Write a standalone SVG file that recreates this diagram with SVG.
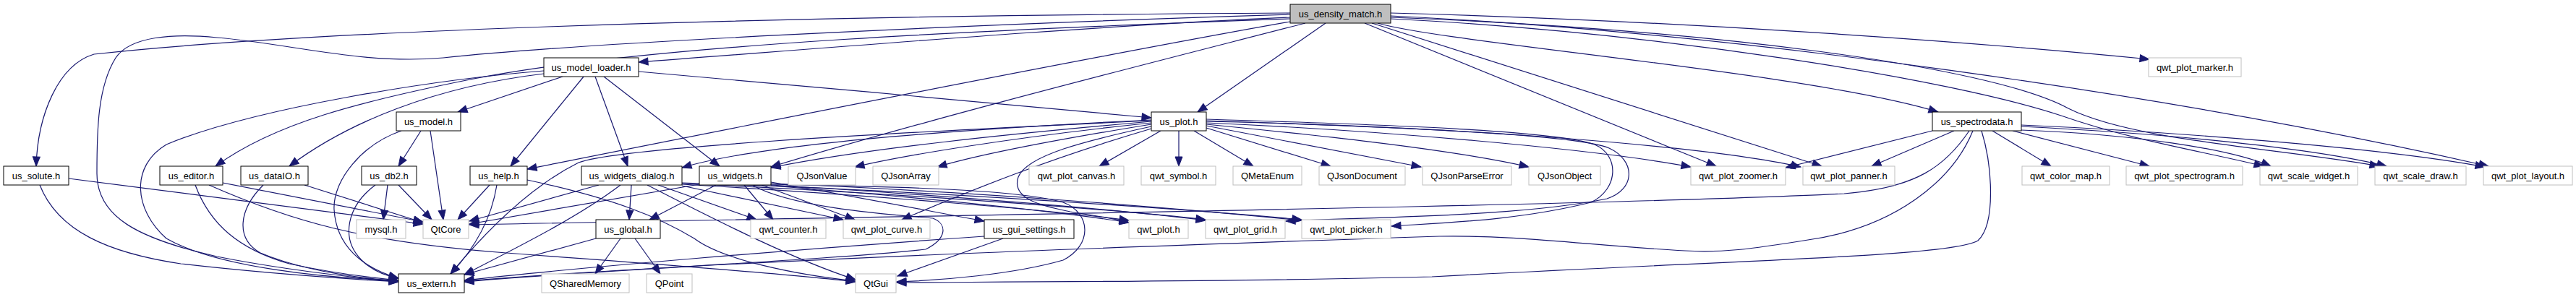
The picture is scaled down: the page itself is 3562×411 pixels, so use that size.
<svg xmlns="http://www.w3.org/2000/svg" width="3562" height="411" viewBox="0 0 3562 411">
<style>
rect{fill:#fff;stroke:#000;stroke-width:1}
.g rect{stroke:#bfbfbf}
.r rect{fill:#bfbfbf}
text{font-family:"Liberation Sans",Arial,sans-serif;font-size:13px;text-anchor:middle;fill:#000}
#edges path{fill:none;stroke:#191970;stroke-width:1.2;marker-end:url(#a)}
</style>
<defs>
<marker id="a" markerUnits="userSpaceOnUse" markerWidth="14" markerHeight="11" refX="13" refY="5" orient="auto" overflow="visible">
<path d="M0,0 L13,5 L0,10 Z" fill="#191970" stroke="#191970"/>
</marker>
</defs>
<rect x="0" y="0" width="3562" height="411" style="fill:#fff;stroke:none"/>
<g id="edges">
<!-- density -->
<path d="M1784,24 C1500,36 1100,70 883,86"/>
<path d="M1833,32 L1656,155"/>
<path d="M1905,32 C2000,60 2500,100 2680,155"/>
<path d="M1784,18 C1000,22 400,45 130,75 C80,90 52,160 50,230"/>
<path d="M1784,20 C1300,35 800,60 613,80 C500,90 400,60 300,52 C240,46 180,50 160,80 C135,120 134,180 134,240 C134,300 190,330 300,355 C400,375 500,385 551,390"/>
<path d="M1784,26 C1400,40 900,60 650,110 C500,140 380,170 298,230"/>
<path d="M1784,30 C1500,80 1000,180 729,234"/>
<path d="M1805,32 C1600,85 1300,160 1066,231"/>
<path d="M1923,18 C2300,28 2700,55 2972,82"/>
<path d="M1923,22 C2400,45 3000,130 3441,230"/>
<path d="M1923,26 C2300,45 2700,110 2850,160 C2950,195 3050,210 3130,230"/>
<path d="M1923,24 C2350,40 2750,90 2860,150 C2950,195 3150,205 3290,230"/>
<path d="M1887,32 L2373,230"/>
<path d="M1897,32 L2519,230"/>
<!-- model loader -->
<path d="M883,99 C1100,118 1400,145 1592,163"/>
<path d="M778,106 L633,155"/>
<path d="M807,106 L706,230"/>
<path d="M823,106 L868,230"/>
<path d="M835,106 L995,230"/>
<path d="M752,102 C600,120 480,170 400,230"/>
<path d="M752,98 C600,110 350,150 230,200 C180,230 185,290 230,330 C300,370 450,385 551,388"/>
<!-- us_model -->
<path d="M582,181 L551,230"/>
<path d="M595,181 L613,304"/>
<path d="M555,181 C500,200 460,250 462,290 C465,340 500,370 551,385"/>
<!-- us_plot -->
<path d="M1605,181 L1520,230"/>
<path d="M1630,181 L1630,230"/>
<path d="M1651,181 L1733,230"/>
<path d="M1668,177 L1840,230"/>
<path d="M1668,174 L1965,231"/>
<path d="M1668,172 C1800,185 2000,205 2114,231"/>
<path d="M1668,170 C1900,180 2200,205 2338,231"/>
<path d="M1668,168 C2000,175 2350,200 2490,231"/>
<path d="M1668,165 C1900,172 2150,180 2205,200 C2240,215 2238,262 2200,280 C2100,305 2000,308 1924,313"/>
<path d="M1668,167 C1900,175 2180,185 2225,205 C2262,222 2262,262 2222,275 C2100,300 1900,300 1778,306"/>
<path d="M1592,175 C1500,195 1420,215 1408,245 C1398,275 1440,285 1480,293 C1510,298 1540,302 1561,308"/>
<path d="M1592,178 C1450,220 1350,260 1247,304"/>
<path d="M1592,172 C1450,195 1350,215 1296,231"/>
<path d="M1592,170 C1400,190 1250,215 1182,231"/>
<path d="M1592,168 C1400,185 1200,205 1066,232"/>
<path d="M1592,166 C1300,180 1050,200 943,232"/>
<path d="M1592,167 C1200,185 850,205 800,225 C740,255 680,310 623,379"/>
<!-- spectrodata -->
<path d="M2672,181 L2469,232"/>
<path d="M2702,181 L2588,230"/>
<path d="M2755,181 L2836,230"/>
<path d="M2783,181 L2972,230"/>
<path d="M2795,180 C2950,186 3080,205 3140,230"/>
<path d="M2795,175 C3000,185 3200,205 3300,230"/>
<path d="M2795,173 C3000,182 3300,205 3436,231"/>
<path d="M2723,181 C2690,230 2650,260 2550,268 C2200,285 1300,298 649,311"/>
<path d="M2728,181 C2700,250 2620,315 2500,332 C2420,345 2380,350 2330,347 C2200,340 2100,325 1990,327 C1600,340 1000,360 642,389"/>
<path d="M2740,181 C2755,230 2760,310 2735,333 C2700,355 2400,360 1980,383 C1700,390 1400,390 1240,391"/>
<!-- solute, editor, dataIO, db2 -->
<path d="M95,247 L585,310"/>
<path d="M55,256 C80,320 150,350 250,365 C380,380 480,386 551,390"/>
<path d="M308,253 L585,307"/>
<path d="M270,256 C290,310 330,345 400,365 C460,378 510,384 551,388"/>
<path d="M289,256 C400,305 500,335 700,350 C900,365 1100,380 1183,390"/>
<path d="M421,256 L585,308"/>
<path d="M364,256 C330,290 325,330 360,350 C420,375 500,385 551,389"/>
<path d="M536,256 L530,304"/>
<path d="M551,256 L597,304"/>
<path d="M519,256 C480,285 470,330 500,360 C515,375 535,382 551,385"/>
<!-- help -->
<path d="M677,256 L633,304"/>
<path d="M687,256 C680,300 660,340 623,379"/>
<path d="M729,249 C850,275 910,300 960,330 C1000,360 1100,380 1183,389"/>
<!-- widgets dialog -->
<path d="M828,256 L649,306"/>
<path d="M873,256 L870,304"/>
<path d="M858,256 C800,300 720,340 642,380"/>
<path d="M895,256 C1000,310 1100,360 1183,387"/>
<path d="M910,256 L1046,304"/>
<path d="M943,257 L1166,304"/>
<path d="M943,255 C1200,270 1450,290 1561,305"/>
<path d="M943,254 C1200,265 1550,290 1667,304"/>
<path d="M943,253 C1250,262 1650,290 1800,304"/>
<!-- widgets -->
<path d="M990,256 L898,304"/>
<path d="M967,255 L649,310"/>
<path d="M1029,256 L1069,304"/>
<path d="M1053,256 L1182,304"/>
<path d="M1066,252 C1200,275 1300,295 1361,306"/>
<path d="M1066,255 C1200,258 1400,260 1470,280 C1510,295 1510,340 1470,360 C1400,380 1300,388 1240,390"/>
<path d="M1040,256 C1100,290 1250,298 1290,302 C1310,310 1310,330 1280,345 C1150,360 800,375 642,390"/>
<path d="M1066,257 C1300,275 1480,295 1561,308"/>
<path d="M1066,256 C1300,270 1550,290 1667,305"/>
<path d="M1066,254 C1350,265 1650,290 1800,305"/>
<!-- gui settings, global -->
<path d="M1387,330 L1241,382"/>
<path d="M1361,327 C1100,345 800,370 642,388"/>
<path d="M858,330 L823,379"/>
<path d="M878,330 L913,379"/>
<path d="M824,330 L642,380"/>
</g>
<g id="n0" class="r"><rect x="1784" y="6" width="139" height="26"/><text x="1853.5" y="23.5">us_density_match.h</text></g>
<g id="n1"><rect x="752" y="80" width="131" height="26"/><text x="817.5" y="97.5">us_model_loader.h</text></g>
<g id="n2" class="g"><rect x="2971" y="80" width="128" height="26"/><text x="3035" y="97.5">qwt_plot_marker.h</text></g>
<g id="n3"><rect x="548" y="155" width="89" height="26"/><text x="592.5" y="172.5">us_model.h</text></g>
<g id="n4"><rect x="1592" y="155" width="76" height="26"/><text x="1630" y="172.5">us_plot.h</text></g>
<g id="n5"><rect x="2672" y="155" width="123" height="26"/><text x="2733.5" y="172.5">us_spectrodata.h</text></g>
<g id="n6"><rect x="5" y="230" width="90" height="26"/><text x="50" y="247.5">us_solute.h</text></g>
<g id="n7"><rect x="221" y="230" width="87" height="26"/><text x="264.5" y="247.5">us_editor.h</text></g>
<g id="n8"><rect x="333" y="230" width="93" height="26"/><text x="379.5" y="247.5">us_dataIO.h</text></g>
<g id="n9"><rect x="500" y="230" width="76" height="26"/><text x="538" y="247.5">us_db2.h</text></g>
<g id="n10"><rect x="650" y="230" width="79" height="26"/><text x="689.5" y="247.5">us_help.h</text></g>
<g id="n11"><rect x="804" y="230" width="139" height="26"/><text x="873.5" y="247.5">us_widgets_dialog.h</text></g>
<g id="n12"><rect x="967" y="230" width="99" height="26"/><text x="1016.5" y="247.5">us_widgets.h</text></g>
<g id="n13" class="g"><rect x="1090" y="230" width="93" height="26"/><text x="1136.5" y="247.5">QJsonValue</text></g>
<g id="n14" class="g"><rect x="1207" y="230" width="91" height="26"/><text x="1252.5" y="247.5">QJsonArray</text></g>
<g id="n15" class="g"><rect x="1423" y="230" width="131" height="26"/><text x="1488.5" y="247.5">qwt_plot_canvas.h</text></g>
<g id="n16" class="g"><rect x="1578" y="230" width="103" height="26"/><text x="1629.5" y="247.5">qwt_symbol.h</text></g>
<g id="n17" class="g"><rect x="1705" y="230" width="95" height="26"/><text x="1752.5" y="247.5">QMetaEnum</text></g>
<g id="n18" class="g"><rect x="1824" y="230" width="119" height="26"/><text x="1883.5" y="247.5">QJsonDocument</text></g>
<g id="n19" class="g"><rect x="1967" y="230" width="123" height="26"/><text x="2028.5" y="247.5">QJsonParseError</text></g>
<g id="n20" class="g"><rect x="2114" y="230" width="99" height="26"/><text x="2163.5" y="247.5">QJsonObject</text></g>
<g id="n21" class="g"><rect x="2338" y="230" width="131" height="26"/><text x="2403.5" y="247.5">qwt_plot_zoomer.h</text></g>
<g id="n22" class="g"><rect x="2493" y="230" width="127" height="26"/><text x="2556.5" y="247.5">qwt_plot_panner.h</text></g>
<g id="n23" class="g"><rect x="2796" y="230" width="121" height="26"/><text x="2856.5" y="247.5">qwt_color_map.h</text></g>
<g id="n24" class="g"><rect x="2940" y="230" width="161" height="26"/><text x="3020.5" y="247.5">qwt_plot_spectrogram.h</text></g>
<g id="n25" class="g"><rect x="3125" y="230" width="135" height="26"/><text x="3192.5" y="247.5">qwt_scale_widget.h</text></g>
<g id="n26" class="g"><rect x="3284" y="230" width="126" height="26"/><text x="3347" y="247.5">qwt_scale_draw.h</text></g>
<g id="n27" class="g"><rect x="3434" y="230" width="123" height="26"/><text x="3495.5" y="247.5">qwt_plot_layout.h</text></g>
<g id="n28" class="g"><rect x="493" y="304" width="68" height="26"/><text x="527" y="321.5">mysql.h</text></g>
<g id="n29" class="g"><rect x="585" y="304" width="63" height="26"/><text x="616.5" y="321.5">QtCore</text></g>
<g id="n30"><rect x="824" y="304" width="89" height="26"/><text x="868.5" y="321.5">us_global.h</text></g>
<g id="n31" class="g"><rect x="1038" y="304" width="104" height="26"/><text x="1090" y="321.5">qwt_counter.h</text></g>
<g id="n32" class="g"><rect x="1166" y="304" width="120" height="26"/><text x="1226" y="321.5">qwt_plot_curve.h</text></g>
<g id="n33"><rect x="1361" y="304" width="124" height="26"/><text x="1423" y="321.5">us_gui_settings.h</text></g>
<g id="n34" class="g"><rect x="1561" y="304" width="82" height="26"/><text x="1602" y="321.5">qwt_plot.h</text></g>
<g id="n35" class="g"><rect x="1667" y="304" width="110" height="26"/><text x="1722" y="321.5">qwt_plot_grid.h</text></g>
<g id="n36" class="g"><rect x="1800" y="304" width="123" height="26"/><text x="1861.5" y="321.5">qwt_plot_picker.h</text></g>
<g id="n37"><rect x="551" y="379" width="91" height="26"/><text x="596.5" y="396.5">us_extern.h</text></g>
<g id="n38" class="g"><rect x="749" y="379" width="121" height="26"/><text x="809.5" y="396.5">QSharedMemory</text></g>
<g id="n39" class="g"><rect x="894" y="379" width="63" height="26"/><text x="925.5" y="396.5">QPoint</text></g>
<g id="n40" class="g"><rect x="1183" y="379" width="56" height="26"/><text x="1211" y="396.5">QtGui</text></g>
</svg>
